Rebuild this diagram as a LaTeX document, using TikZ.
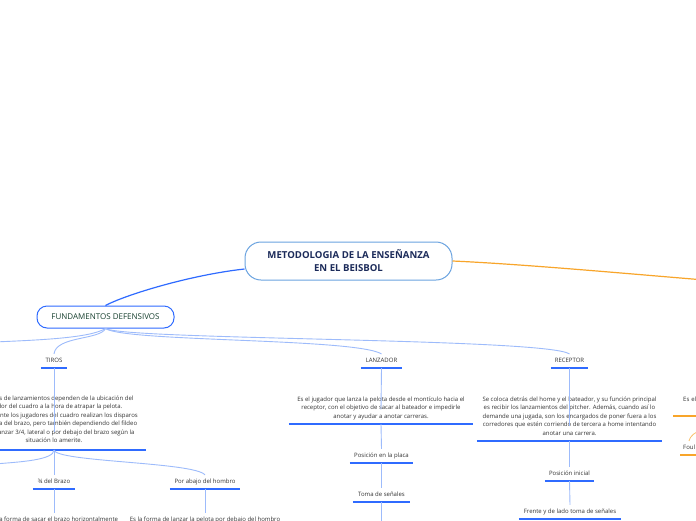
\documentclass[tikz,border=0pt]{standalone}
\usepackage{fontspec}
\setmainfont{Open Sans}
\usetikzlibrary{calc}
\definecolor{navy}{HTML}{1C2B5A}
\definecolor{fundtext}{HTML}{17402F}
\definecolor{rootborder}{HTML}{6AA3E0}
\definecolor{fundborder}{HTML}{2F6BFF}
\definecolor{ulblue}{HTML}{2F6BFF}
\definecolor{connblue}{HTML}{9DBBFB}
\definecolor{labelgray}{HTML}{333333}
\definecolor{orangeline}{HTML}{F8A52A}
\tikzset{
  lbl/.style={font=\fontsize{6}{8.4}\selectfont, text=labelgray, inner xsep=0pt, inner ysep=4pt,
    text height=4.3pt, text depth=1.4pt, anchor=south, align=center},
  desc/.style={lbl, inner ysep=4.3pt},
  uline/.style={draw=ulblue, line width=1.4pt},
  oline/.style={draw=orangeline, line width=1.4pt},
  conn/.style={draw=connblue, line width=0.9pt},
  oconn/.style={draw=orangeline!70, line width=0.8pt},
}
\begin{document}
\begin{tikzpicture}[x=1pt,y=-1pt]
\useasboundingbox (0,0) rectangle (696,520);
\clip (0,0) rectangle (696,520);
\fill[white] (0,0) rectangle (696,520);

% root
\node[draw=rootborder, line width=1pt, fill=white, rounded corners=16pt, minimum width=207pt, minimum height=38pt,
  align=center, text=navy, font=\fontsize{9.6}{13}\selectfont\bfseries, inner sep=0pt] (root) at (348.5,261)
  {METODOLOGIA DE LA ENSEÑANZA\\EN EL BEISBOL};

% fundamentos
\node[draw=fundborder, line width=1pt, fill=white, rounded corners=10pt, minimum width=137pt, minimum height=22pt,
  text=fundtext, font=\fontsize{8}{9}\selectfont, inner sep=0pt] (fund) at (105.5,317) {FUNDAMENTOS DEFENSIVOS};

\coordinate (oR) at (702,279.8);
\draw[draw=orangeline, line width=1.2pt] (root.east) .. controls (520,264) and (620,273) .. (oR);
\draw[draw=fundborder, line width=1.2pt] ([yshift=-8pt]root.west) .. controls (190,275) and (125,295) .. (fund.north);

% TIROS branch
\node[lbl, minimum width=26pt] (tiros) at (54,368) {TIROS};
\draw[uline] (tiros.south west) -- (tiros.south east);
\node[desc, minimum width=184pt, inner ysep=6pt] (tirosd) at (54,450)
  {Las clases de lanzamientos dependen de la ubicación del\\
   jugador del cuadro a la hora de atrapar la pelota.\\
   Normalmente los jugadores del cuadro realizan los disparos\\
   por encima del brazo, pero también dependiendo del fildeo\\
   pueden lanzar 3/4, lateral o por debajo del brazo según la\\
   situación lo amerite.};
\draw[uline] (tirosd.south west) -- (tirosd.south east);

\node[lbl, minimum width=42pt] (brazo) at (54,489) {¾ del Brazo};
\draw[uline] (brazo.south west) -- (brazo.south east);
\node[lbl, minimum width=70pt] (abajo) at (205,489) {Por abajo del hombro};
\draw[uline] (abajo.south west) -- (abajo.south east);

\node[desc, anchor=north] (brazod) at (54,513) {Es la forma de sacar el brazo horizontalmente};
\node[desc, anchor=north] (abajod) at (205,513) {Es la forma de lanzar la pelota por debajo del hombro};

% LANZADOR branch
\node[lbl, minimum width=41pt] (lanz) at (381.5,368) {LANZADOR};
\draw[uline] (lanz.south west) -- (lanz.south east);
\node[desc, minimum width=184pt] (lanzd) at (381,424)
  {Es el jugador que lanza la pelota desde el montículo hacia el\\
   receptor, con el objetivo de sacar al bateador e impedirle\\
   anotar y ayudar a anotar carreras.};
\draw[uline] (lanzd.south west) -- (lanzd.south east);
\node[lbl, minimum width=63pt] (placa) at (381.5,463) {Posición en la placa};
\draw[uline] (placa.south west) -- (placa.south east);
\node[lbl, minimum width=57pt] (toma) at (381.5,502) {Toma de señales};
\draw[uline] (toma.south west) -- (toma.south east);
\coordinate (tomaEnd) at (381.5,525);

% RECEPTOR branch
\node[lbl, minimum width=37pt] (rec) at (569.5,368) {RECEPTOR};
\draw[uline] (rec.south west) -- (rec.south east);
\node[desc, minimum width=185pt] (recd) at (569.5,441)
  {Se coloca detrás del home y el bateador, y su función principal\\
   es recibir los lanzamientos del pitcher. Además, cuando así lo\\
   demande una jugada, son los encargados de poner fuera a los\\
   corredores que estén corriendo de tercera a home intentando\\
   anotar una carrera.};
\draw[uline] (recd.south west) -- (recd.south east);
\node[lbl, minimum width=49pt] (inicial) at (569.5,481) {Posición inicial};
\draw[uline] (inicial.south west) -- (inicial.south east);
\node[lbl, minimum width=102pt] (frente) at (570,519) {Frente y de lado toma de señales};
\draw[uline] (frente.south west) -- (frente.south east);

% right (orange) branch, cut by the edge
\node[lbl, anchor=south west, inner xsep=10pt, inner ysep=12.5pt, text width=164pt, align=left] (ese) at (673,416) {Es el jugador};
\draw[oline] (ese.south west) -- (ese.south east);
\node[lbl, anchor=south west, inner xsep=3pt, text width=50pt, align=left] (foul) at (680,455) {Foul};
\draw[oline] (foul.south west) -- (foul.south east);
\coordinate (oF) at (702,430);
\draw[oconn] (oF) .. controls (695,432) and (690,436) .. ($(foul.north west)+(9,0)$);

% connectors
\coordinate (leftA) at (-6,342);
\coordinate (leftB) at (-6,464);
\draw[conn] (fund.south) .. controls (90,338) and (40,340) .. (leftA);
\draw[conn] (fund.south) .. controls (100,340) and (56,336) .. (tiros.north);
\draw[conn] (fund.south) .. controls (125,342) and (355,338) .. (lanz.north);
\draw[conn] (fund.south) .. controls (125,340) and (545,338) .. (rec.north);
\draw[conn] (tiros.south) -- (tirosd.north);
\draw[conn] (tirosd.south) -- (brazo.north);
\draw[conn] (tirosd.south) .. controls (54,460) and (20,462) .. (leftB);
\draw[conn] (tirosd.south) .. controls (56,462) and (195,462) .. (abajo.north);
\draw[conn] (brazo.south) -- (brazod.north);
\draw[conn] (abajo.south) -- (abajod.north);
\draw[conn] (lanz.south) -- (lanzd.north);
\draw[conn] (lanzd.south) -- (placa.north);
\draw[conn] (placa.south) -- (toma.north);
\draw[conn] (toma.south) -- (tomaEnd);
\draw[conn] (rec.south) -- (recd.north);
\draw[conn] (recd.south) -- (inicial.north);
\draw[conn] (inicial.south) -- (frente.north);
\end{tikzpicture}
\end{document}
